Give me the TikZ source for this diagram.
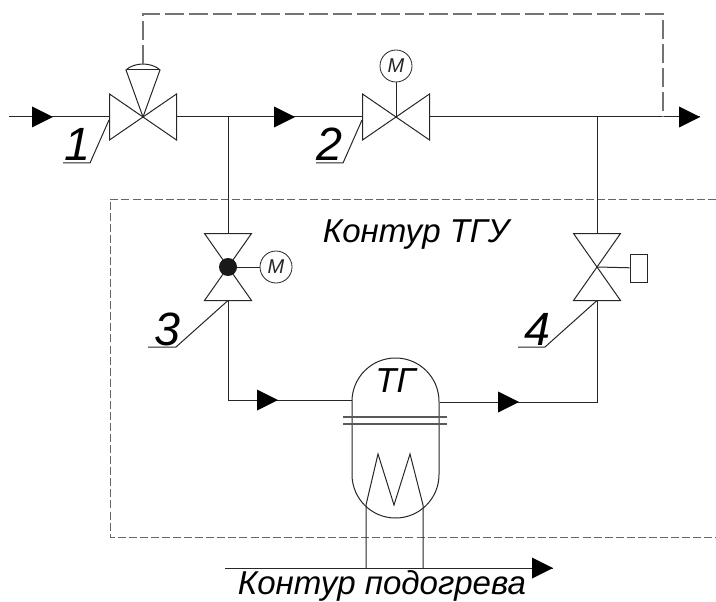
\documentclass[tikz,border=0pt]{standalone}
\usepackage{fontspec}
\setmainfont{Liberation Sans}
\tikzstyle{pipe}=[line width=.75pt,black!85]
\tikzstyle{signal}=[line width=.85pt,black!55,dash pattern=on 14pt off 4pt]
\tikzstyle{contour}=[line width=.7pt,black!60,dash pattern=on 6pt off 2.3pt]
\tikzstyle{motor}=[circle,draw,line width=.6pt,black!85,fill=white,inner sep=0pt,minimum size=24pt,font=\itshape\fontsize{15}{15}\selectfont]
\tikzstyle{numlabel}=[inner sep=0pt,anchor=base,font=\itshape\fontsize{35}{35}\selectfont]
\tikzstyle{textlabel}=[inner sep=0pt,anchor=base,font=\itshape\fontsize{24.8}{24.8}\selectfont]
% valve with horizontal flow, ports #1l and #1r
\newcommand{\valveh}[3]{
  \coordinate (#1) at (#2, #3);
  \coordinate (#1l) at (#2-33.5, #3);
  \coordinate (#1r) at (#2+33.5, #3);
  \draw[pipe] (#1) -- (#2-33.5, #3-23) -- (#2-33.5, #3+23) -- cycle;
  \draw[pipe] (#1) -- (#2+33.5, #3-23) -- (#2+33.5, #3+23) -- cycle;
}
% valve with vertical flow, ports #1t and #1b
\newcommand{\valvev}[3]{
  \coordinate (#1) at (#2, #3);
  \coordinate (#1t) at (#2, #3-33.5);
  \coordinate (#1b) at (#2, #3+33.5);
  \draw[pipe] (#1) -- (#2-23.5, #3-33.5) -- (#2+23.5, #3-33.5) -- cycle;
  \draw[pipe] (#1) -- (#2-23.5, #3+33.5) -- (#2+23.5, #3+33.5) -- cycle;
}
\newcommand{\flowtip}[2]{
  \fill[black] (#1-21, #2-10.5) -- (#1, #2) -- (#1-21, #2+10.5) -- cycle;
}
\begin{document}
\begin{tikzpicture}[x=.75pt,y=-.75pt]
\useasboundingbox (0,0) rectangle (716,602);
% outer contour
\coordinate (boxne) at (716,199);
\coordinate (boxnw) at (110,199);
\coordinate (boxsw) at (110,537);
\coordinate (boxse) at (716,537);
\draw[contour] (boxne) -- (boxnw) -- (boxsw) -- (boxse);
% main line
\coordinate (inlet) at (9,117);
\coordinate (outlet) at (700,117);
\valveh{vone}{143}{117}
\valveh{vtwo}{396}{117}
\coordinate (tee) at (228,117);
\coordinate (teeout) at (597,117);
\coordinate (sense) at (663,117);
\draw[pipe] (inlet) -- (vonel);
\draw[pipe] (voner) -- (vtwol);
\draw[pipe] (vtwor) -- (outlet);
\flowtip{53}{117}
\flowtip{295}{117}
\flowtip{700}{117}
% actuator of valve 1
\coordinate (domel) at (126,70);
\coordinate (domer) at (160,70);
\coordinate (dometop) at (143,64);
\draw[pipe] (vone) -- (domel) .. controls (130,66) and (137,64) .. (dometop)
  .. controls (149,64) and (156,66) .. (domer) -- cycle;
\draw[pipe] (domel) -- (domer);
\coordinate (sigtop) at (143,14);
\draw[signal] (dometop) -- (sigtop) -- (sigtop -| sense) -- (sense);
% motor of valve 2
\node[motor] (mtwo) at (396,66) {M};
\draw[pipe] (vtwo) -- (mtwo);
% branch with valve 3
\valvev{vthree}{228}{267}
\node[motor] (mthree) at (276,267) {M};
\draw[pipe] (vthree) -- (mthree);
\node[circle,fill=black!90,inner sep=0pt,minimum size=13.5pt] (ball) at (vthree) {};
\draw[pipe] (tee) -- (vthreet);
% branch with valve 4
\valvev{vfour}{597}{267}
\node[draw,pipe,fill=white,inner sep=0pt,minimum width=12.75pt,minimum height=21pt] (act) at (638.5,268) {};
\draw[pipe] (vfour) -- (act);
\draw[pipe] (teeout) -- (vfourt);
% heat exchanger
\node[draw,pipe,rounded corners=32.6pt,minimum width=65.25pt,minimum height=120pt,inner sep=0pt] (tg) at (395.5,438) {};
\node[textlabel,font=\itshape\fontsize{26}{26}\selectfont] (tgtext) at (395.5,392) {ТГ};
\coordinate (tgin) at (tg.west |- 0,400);
\coordinate (tgout) at (tg.east |- 0,402);
\coordinate (cornerl) at (228,400);
\coordinate (cornerr) at (597,402);
\draw[pipe] (vthreeb) -- (cornerl) -- (tgin);
\draw[pipe] (tgout) -- (cornerr) -- (vfourb);
\flowtip{278}{400}
\flowtip{519}{402}
\coordinate (flangel) at (343,417);
\coordinate (flanger) at (447,417);
\coordinate (flangelb) at (343,424);
\coordinate (flangerb) at (447,424);
\draw[pipe,black!65,line width=.9pt] (flangel) -- (flanger);
\draw[pipe,black!65,line width=.9pt] (flangelb) -- (flangerb);
% coil
\coordinate (coill) at (366,505);
\coordinate (coilr) at (423,505);
\coordinate (heatl) at (366,568);
\coordinate (heatr) at (423,568);
\draw[pipe] (heatl) -- (coill) -- (378,454) -- (394,505) -- (410,454) -- (coilr) -- (heatr);
\coordinate (heatin) at (225,568);
\coordinate (heatout) at (553,568);
\draw[pipe] (heatin) -- (heatout);
\flowtip{553}{568}
% labels and leaders
\coordinate (lone) at (63,163);
\coordinate (ltwo) at (316,163);
\coordinate (lthree) at (148,347);
\coordinate (lfour) at (518,347);
\draw[pipe] (lone) -- (90,163) -- (109,120);
\draw[pipe] (ltwo) -- (343,163) -- (362,120);
\draw[pipe] (lthree) -- (176,347) -- (vthreeb);
\draw[pipe] (lfour) -- (545,347) -- (vfourb);
\node[numlabel] (none) at (77,161) {1};
\node[numlabel] (ntwo) at (329,161) {2};
\node[numlabel] (nthree) at (167,345) {3};
\node[numlabel] (nfour) at (537,345) {4};
\node[textlabel] (ctgu) at (416,242) {Контур ТГУ};
\node[textlabel] (cheat) at (382,594.5) {Контур подогрева};
\end{tikzpicture}
\end{document}
